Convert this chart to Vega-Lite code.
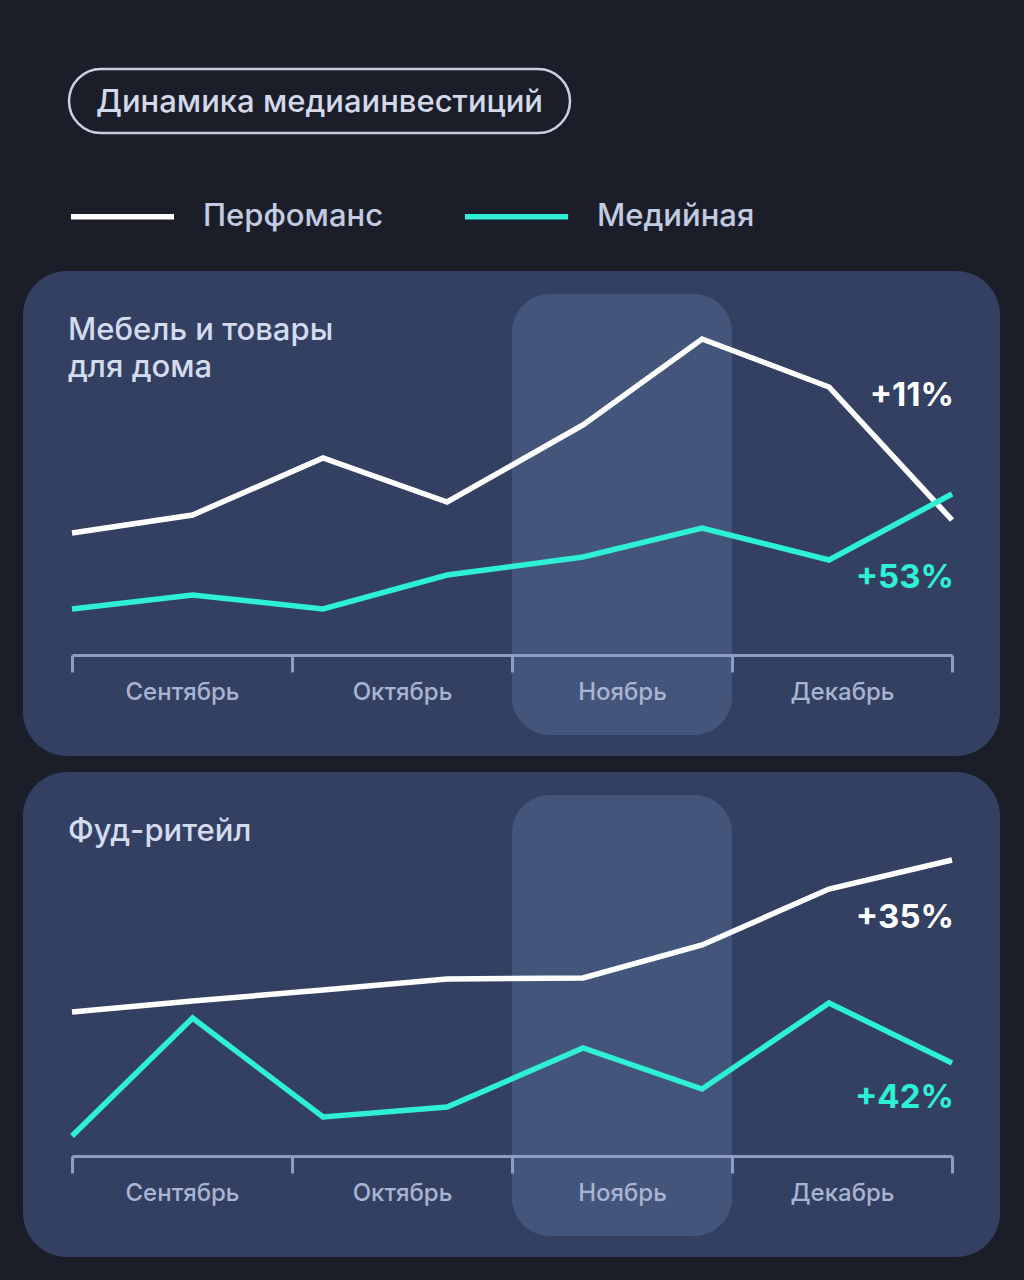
{
  "$schema": "https://vega.github.io/schema/vega-lite/v6.json",
  "background": "#1b1e28",
  "padding": {"left": 23, "top": 67, "right": 24, "bottom": 23},
  "spacing": 16,
  "config": {
    "view": {"stroke": null},
    "font": "Inter",
    "text": {"font": "Inter"}
  },
  "datasets": {
    "furniture": [
      {"t": 0, "v": 122, "series": "Перфоманс"},
      {"t": 0.548, "v": 140, "series": "Перфоманс"},
      {"t": 1.141, "v": 197, "series": "Перфоманс"},
      {"t": 1.705, "v": 153, "series": "Перфоманс"},
      {"t": 2.323, "v": 230, "series": "Перфоманс"},
      {"t": 2.864, "v": 316, "series": "Перфоманс"},
      {"t": 3.441, "v": 268, "series": "Перфоманс"},
      {"t": 4, "v": 135, "series": "Перфоманс"},
      {"t": 0, "v": 46, "series": "Медийная"},
      {"t": 0.548, "v": 60, "series": "Медийная"},
      {"t": 1.141, "v": 46, "series": "Медийная"},
      {"t": 1.705, "v": 80, "series": "Медийная"},
      {"t": 2.323, "v": 98, "series": "Медийная"},
      {"t": 2.864, "v": 127, "series": "Медийная"},
      {"t": 3.441, "v": 95, "series": "Медийная"},
      {"t": 4, "v": 161, "series": "Медийная"}
    ],
    "food": [
      {"t": 0, "v": 144, "series": "Перфоманс"},
      {"t": 0.548, "v": 155, "series": "Перфоманс"},
      {"t": 1.141, "v": 166, "series": "Перфоманс"},
      {"t": 1.705, "v": 177, "series": "Перфоманс"},
      {"t": 2.323, "v": 178, "series": "Перфоманс"},
      {"t": 2.864, "v": 211, "series": "Перфоманс"},
      {"t": 3.441, "v": 267, "series": "Перфоманс"},
      {"t": 4, "v": 296, "series": "Перфоманс"},
      {"t": 0, "v": 20, "series": "Медийная"},
      {"t": 0.548, "v": 138, "series": "Медийная"},
      {"t": 1.141, "v": 39, "series": "Медийная"},
      {"t": 1.705, "v": 49, "series": "Медийная"},
      {"t": 2.323, "v": 108, "series": "Медийная"},
      {"t": 2.864, "v": 67, "series": "Медийная"},
      {"t": 3.441, "v": 153, "series": "Медийная"},
      {"t": 4, "v": 93, "series": "Медийная"}
    ],
    "highlight": [{"month": "Ноябрь", "start": 2, "end": 3}],
    "furniture_change": [
      {"series": "Перфоманс", "label": "+11%", "t": 4, "v": 249},
      {"series": "Медийная", "label": "+53%", "t": 4, "v": 67}
    ],
    "food_change": [
      {"series": "Перфоманс", "label": "+35%", "t": 4, "v": 228},
      {"series": "Медийная", "label": "+42%", "t": 4, "v": 48}
    ]
  },
  "vconcat": [
    {
      "hconcat": [
        {
          "width": 24,
          "height": 186,
          "view": {"fill": "transparent", "stroke": null},
          "data": {"values": []},
          "mark": "point"
        },
        {
          "width": 501,
          "height": 64,
          "view": {"fill": null, "stroke": "#c9d0e3", "strokeWidth": 2.5, "cornerRadius": 32},
          "data": {"values": [{"heading": "Динамика медиаинвестиций"}]},
          "mark": {
            "type": "text",
            "align": "center",
            "baseline": "middle",
            "dy": 2,
            "fontSize": 31,
            "fontWeight": 500,
            "color": "#d3d9ea"
          },
          "encoding": {
            "x": {"field": "heading", "type": "nominal", "axis": null},
            "y": {"field": "heading", "type": "nominal", "axis": null},
            "text": {"field": "heading"}
          }
        }
      ],
      "spacing": 20
    },
    {
      "width": 977,
      "height": 485,
      "view": {"fill": "#334061", "cornerRadius": 44, "stroke": null},
      "title": {
        "text": ["Мебель и товары", "для дома"],
        "anchor": "start",
        "frame": "group",
        "orient": "top",
        "offset": -113,
        "dx": 45,
        "baseline": "top",
        "fontSize": 31,
        "fontWeight": 500,
        "color": "#d3dbef",
        "lineHeight": 37,
        "font": "Inter"
      },
      "layer": [
        {
          "data": {"name": "highlight"},
          "mark": {"type": "rect", "cornerRadius": 38, "color": "#43557b"},
          "encoding": {
            "x": {"field": "start", "type": "quantitative"},
            "x2": {"field": "end"},
            "y": {"datum": 361, "type": "quantitative", "axis": null},
            "y2": {"datum": -80}
          }
        },
        {
          "data": {"name": "furniture"},
          "mark": {"type": "line", "strokeWidth": 5.5, "strokeCap": "butt", "strokeJoin": "miter"},
          "encoding": {
            "x": {
              "field": "t",
              "type": "quantitative",
              "scale": {"domain": [0, 4], "range": [49, 929], "nice": false, "zero": false},
              "axis": {
                "title": null,
                "zindex": 1,
                "values": [0, 1, 2, 3, 4],
                "labelExpr": "['Сентябрь','Октябрь','Ноябрь','Декабрь',''][datum.value]",
                "labelOffset": 110,
                "labelFlush": false,
                "labelOverlap": false,
                "labelBound": false,
                "labelAlign": "center",
                "labelBaseline": "middle",
                "labelPadding": 20,
                "labelFontSize": 24,
                "labelFontWeight": 500,
                "labelColor": "#a9b3d2",
                "labelFont": "Inter",
                "tickSize": 17,
                "tickWidth": 3,
                "tickColor": "#8e9dc6",
                "domainColor": "#8e9dc6",
                "domainWidth": 3,
                "grid": false,
                "offset": -101
              }
            },
            "y": {
              "field": "v",
              "type": "quantitative",
              "scale": {"domain": [-101, 384], "nice": false, "zero": false},
              "axis": null
            },
            "color": {
              "field": "series",
              "type": "nominal",
              "scale": {"domain": ["Перфоманс", "Медийная"], "range": ["#ffffff", "#2ef0d5"]},
              "legend": {
                "orient": "none",
                "legendX": 45,
                "legendY": 93,
                "direction": "horizontal",
                "title": null,
                "symbolType": "stroke",
                "symbolSize": 10609,
                "symbolStrokeWidth": 5.5,
                "labelFontSize": 31,
                "labelFontWeight": 500,
                "labelColor": "#c3cbe2",
                "labelFont": "Inter",
                "labelOffset": 26,
                "columnPadding": 70,
                "padding": 0,
                "labelLimit": 0
              }
            }
          }
        },
        {
          "data": {"name": "furniture_change"},
          "mark": {"type": "text", "align": "right", "baseline": "alphabetic", "dx": 2, "fontSize": 33, "fontWeight": 700},
          "encoding": {
            "x": {"field": "t", "type": "quantitative"},
            "y": {"field": "v", "type": "quantitative"},
            "text": {"field": "label"},
            "color": {"field": "series", "type": "nominal"}
          }
        }
      ]
    },
    {
      "width": 977,
      "height": 485,
      "view": {"fill": "#334061", "cornerRadius": 44, "stroke": null},
      "title": {
        "text": "Фуд-ритейл",
        "anchor": "start",
        "frame": "group",
        "orient": "top",
        "offset": -76,
        "dx": 45,
        "baseline": "top",
        "fontSize": 31,
        "fontWeight": 500,
        "color": "#d3dbef",
        "font": "Inter"
      },
      "layer": [
        {
          "data": {"name": "highlight"},
          "mark": {"type": "rect", "cornerRadius": 38, "color": "#43557b"},
          "encoding": {
            "x": {"field": "start", "type": "quantitative"},
            "x2": {"field": "end"},
            "y": {"datum": 361, "type": "quantitative", "axis": null},
            "y2": {"datum": -80}
          }
        },
        {
          "data": {"name": "food"},
          "mark": {"type": "line", "strokeWidth": 5.5, "strokeCap": "butt", "strokeJoin": "miter"},
          "encoding": {
            "x": {
              "field": "t",
              "type": "quantitative",
              "scale": {"domain": [0, 4], "range": [49, 929], "nice": false, "zero": false},
              "axis": {
                "title": null,
                "zindex": 1,
                "values": [0, 1, 2, 3, 4],
                "labelExpr": "['Сентябрь','Октябрь','Ноябрь','Декабрь',''][datum.value]",
                "labelOffset": 110,
                "labelFlush": false,
                "labelOverlap": false,
                "labelBound": false,
                "labelAlign": "center",
                "labelBaseline": "middle",
                "labelPadding": 20,
                "labelFontSize": 24,
                "labelFontWeight": 500,
                "labelColor": "#a9b3d2",
                "labelFont": "Inter",
                "tickSize": 17,
                "tickWidth": 3,
                "tickColor": "#8e9dc6",
                "domainColor": "#8e9dc6",
                "domainWidth": 3,
                "grid": false,
                "offset": -101
              }
            },
            "y": {
              "field": "v",
              "type": "quantitative",
              "scale": {"domain": [-101, 384], "nice": false, "zero": false},
              "axis": null
            },
            "color": {"field": "series", "type": "nominal"}
          }
        },
        {
          "data": {"name": "food_change"},
          "mark": {"type": "text", "align": "right", "baseline": "alphabetic", "dx": 2, "fontSize": 33, "fontWeight": 700},
          "encoding": {
            "x": {"field": "t", "type": "quantitative"},
            "y": {"field": "v", "type": "quantitative"},
            "text": {"field": "label"},
            "color": {"field": "series", "type": "nominal"}
          }
        }
      ]
    }
  ]
}
